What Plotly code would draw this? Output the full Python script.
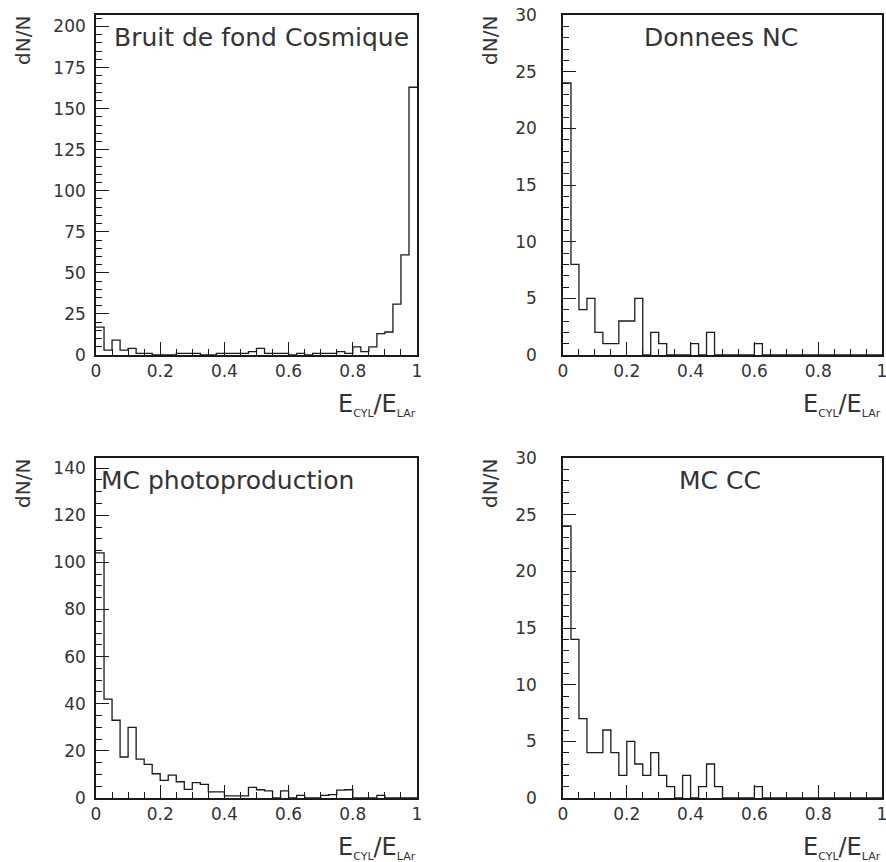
import numpy as np
import plotly.graph_objects as go

# ---------------- data (40 bins over 0..1) ----------------
n_bins = 40
x_lo, x_hi = 0.0, 1.0

cosmic = [17, 3, 9, 3, 4, 1, 1, 0, 0, 0,
          1, 1, 1, 0, 0, 1, 1, 1, 1, 2,
          4, 1, 1, 1, 0, 1, 0, 1, 1, 1,
          2, 1, 5, 2, 5, 13, 14, 31, 61, 163]

donnees_nc = [24, 8, 4, 5, 2, 1, 1, 3, 3, 5,
              0, 2, 1, 0, 0, 0, 1, 0, 2, 0,
              0, 0, 0, 0, 1, 0, 0, 0, 0, 0,
              0, 0, 0, 0, 0, 0, 0, 0, 0, 0]

mc_photo = [104, 42, 33, 17.4, 30, 16.5, 14.3, 10.3, 7.5, 9.7,
            6.9, 3.7, 6.5, 5.8, 2.6, 2.6, 0.9, 0.9, 0.9, 4.5,
            3.5, 3, 0, 3, 0, 1.1, 0, 0, 1.1, 1.4,
            3.3, 3.5, 0, 0, 0, 1.1, 0, 0, 0, 0]

mc_cc = [24, 14, 7, 4, 4, 6, 4, 2, 5, 3,
         2, 4, 2, 1, 0, 2, 0, 1, 3, 1,
         0, 0, 0, 0, 1, 0, 0, 0, 0, 0,
         0, 0, 0, 0, 0, 0, 0, 0, 0, 0]

titles = ["Bruit de fond Cosmique", "Donnees NC", "MC photoproduction", "MC CC"]
series = [cosmic, donnees_nc, mc_photo, mc_cc]
y_tops = [207, 30, 144.3, 30]
y_major = [25, 5, 20, 5]
y_minor = [5, 1, 5, 1]
x_tickvals = [0, 0.2, 0.4, 0.6, 0.8, 1]
y_title = "dN/N"
x_title = ("E<sub><span style='font-size:11px'>CYL</span></sub>/"
           "E<sub><span style='font-size:11px'>LAr</span></sub>")

# ---------------- layout geometry (pixels) ----------------
W, H = 886, 862
frames = [  # left, right, top, bottom
    (96, 417, 15, 355),
    (563, 882, 15, 355),
    (96, 417, 458, 798),
    (563, 882, 458, 798),
]
title_pos = [(112, 38), (642, 38), (99, 481), (677, 481)]
label_standoff = [5, 21, 5, 21]

FONT = "DejaVu Sans"
INK = "#1a1a1a"
TXT = "#333333"

edges = np.linspace(x_lo, x_hi, n_bins + 1)

fig = go.Figure()
for i, (counts, (l, r, t, b)) in enumerate(zip(series, frames)):
    k = "" if i == 0 else str(i + 1)
    ys = list(counts) + [counts[-1]]
    fig.add_trace(go.Scatter(
        x=edges, y=ys, mode="lines", line_shape="hv",
        line=dict(color=INK, width=1.3),
        xaxis="x" + k, yaxis="y" + k, showlegend=False, hoverinfo="skip"))

    fig.layout["xaxis" + k] = dict(
        domain=[l / W, r / W], anchor="y" + k, range=[x_lo, x_hi],
        tickvals=x_tickvals, ticktext=[f"{v:g}" for v in x_tickvals],
        ticks="inside", ticklen=13, tickwidth=1.2, tickcolor=INK,
        minor=dict(ticks="inside", ticklen=6, dtick=0.05, tick0=0,
                   tickwidth=1.1, tickcolor=INK, showgrid=False),
        showline=True, linecolor=INK, linewidth=1.6, mirror=True,
        showgrid=False, zeroline=False, automargin=False,
        ticklabeloverflow="allow",
        tickfont=dict(family=FONT, size=17, color=TXT))
    fig.layout["yaxis" + k] = dict(
        domain=[1 - b / H, 1 - t / H], anchor="x" + k,
        range=[0, y_tops[i]], dtick=y_major[i], tick0=0,
        ticks="inside", ticklen=13, tickwidth=1.2, tickcolor=INK,
        minor=dict(ticks="inside", ticklen=6, dtick=y_minor[i], tick0=0,
                   tickwidth=1.1, tickcolor=INK, showgrid=False),
        showline=True, linecolor=INK, linewidth=1.6, mirror=True,
        showgrid=False, zeroline=False, automargin=False,
        ticklabelstandoff=label_standoff[i], ticklabeloverflow="allow",
        tickfont=dict(family=FONT, size=17, color=TXT))

    # panel title inside frame
    tx, ty = title_pos[i]
    fig.add_annotation(x=tx / W, y=1 - ty / H, xref="paper", yref="paper",
                       text=titles[i], showarrow=False, xanchor="left",
                       yanchor="middle",
                       font=dict(family=FONT, size=25, color=TXT))
    # y axis title (rotated)
    fig.add_annotation(x=(l - 73) / W, y=1 - (t + 26) / H, xref="paper",
                       yref="paper", text=y_title, showarrow=False,
                       textangle=-90, xanchor="center", yanchor="middle",
                       font=dict(family=FONT, size=20, color=TXT))
    # x axis title
    fig.add_annotation(x=(r + 1) / W, y=1 - (b + 50) / H, xref="paper",
                       yref="paper", text=x_title, showarrow=False,
                       xanchor="right", yanchor="middle",
                       font=dict(family=FONT, size=24, color=TXT))

fig.update_layout(width=W, height=H, margin=dict(l=0, r=0, t=0, b=0),
                  paper_bgcolor="white", plot_bgcolor="white")

fig.write_html("out.html", config={"displayModeBar": False},
               post_script="document.body.style.margin='0';")
